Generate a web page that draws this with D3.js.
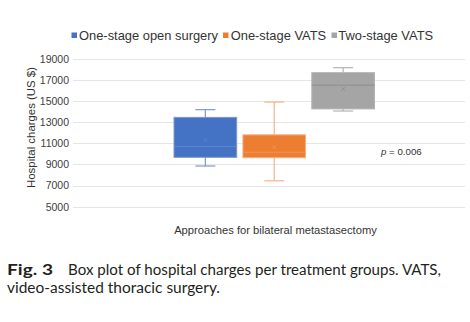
<!DOCTYPE html>
<html>
<head>
<meta charset="utf-8">
<script src="https://cdn.jsdelivr.net/npm/d3@7"></script>
<style>
  html, body { margin: 0; padding: 0; background: #ffffff; }
  svg { display: block; }
</style>
</head>
<body>
<script>
// ---- Data ----
const series = ["One-stage open surgery", "One-stage VATS", "Two-stage VATS"];
const whiskerLow  = [8850, 7450, 14050];
const q1          = [9670, 9630, 14250];
const median      = [10700, 10150, 16500];
const q3          = [13450, 11800, 17680];
const whiskerHigh = [14180, 14900, 18150];
const mean        = [11280, 10620, 16130];
const yTicks      = [5000, 7000, 9000, 11000, 13000, 15000, 17000, 19000];
const colors      = ["#4472C4", "#ED7D31", "#A5A5A5"];
const whiskerColors = ["#8497c9", "#f2b48a", "#b4b4b4"];
const medianColors  = ["#5f86cc", "#f0955a", "#8f8f8f"];
const xTitle = "Approaches for bilateral metastasectomy";
const yTitle = "Hospital charges (US $)";
const pText = " = 0.006";
const captionBold = "Fig. 3";
const captionLine1 = "Box plot of hospital charges per treatment groups. VATS,";
const captionLine2 = "video-assisted thoracic surgery.";

const W = 470, H = 322;
const svg = d3.select("body").append("svg").attr("width", W).attr("height", H);

const plotLeft = 73, plotRight = 465;
const y = d3.scaleLinear().domain([5000, 19000]).range([206.7, 58.7]);
const x = d3.scaleBand().domain(series).range([174, 374.5]).paddingInner(0.09).paddingOuter(0);

const chartFont = "'Liberation Sans', Arial, sans-serif";

// gridlines
svg.append("g").selectAll("line").data(yTicks).join("line")
  .attr("x1", plotLeft).attr("x2", plotRight)
  .attr("y1", d => Math.round(y(d)) + 0.5).attr("y2", d => Math.round(y(d)) + 0.5)
  .attr("stroke", "#e6e6e6").attr("stroke-width", 1);

// y axis (labels only)
const yAxis = d3.axisLeft(y).tickValues(yTicks).tickSize(0).tickPadding(4).tickFormat(d3.format("d"));
const gy = svg.append("g").attr("transform", `translate(${plotLeft},0)`).call(yAxis);
gy.select(".domain").remove();
gy.selectAll("text").attr("font-family", chartFont).attr("font-size", 10.5).attr("fill", "#404040");

// boxes
const idx = d3.range(series.length);
const capW = 20;
const g = svg.append("g");
idx.forEach(i => {
  const s = series[i];
  const x0 = x(s), bw = x.bandwidth(), cx = x0 + bw / 2;
  // whiskers
  g.append("line").attr("x1", cx).attr("x2", cx).attr("y1", y(whiskerHigh[i])).attr("y2", y(q3[i]))
    .attr("stroke", whiskerColors[i]).attr("stroke-width", 1.2);
  g.append("line").attr("x1", cx).attr("x2", cx).attr("y1", y(q1[i])).attr("y2", y(whiskerLow[i]))
    .attr("stroke", whiskerColors[i]).attr("stroke-width", 1.2);
  g.append("line").attr("x1", cx - capW / 2).attr("x2", cx + capW / 2).attr("y1", y(whiskerHigh[i])).attr("y2", y(whiskerHigh[i]))
    .attr("stroke", whiskerColors[i]).attr("stroke-width", 1.2);
  g.append("line").attr("x1", cx - capW / 2).attr("x2", cx + capW / 2).attr("y1", y(whiskerLow[i])).attr("y2", y(whiskerLow[i]))
    .attr("stroke", whiskerColors[i]).attr("stroke-width", 1.2);
  // box
  g.append("rect").attr("x", x0).attr("width", bw)
    .attr("y", y(q3[i])).attr("height", y(q1[i]) - y(q3[i]))
    .attr("fill", colors[i]).attr("stroke", whiskerColors[i]).attr("stroke-width", 1);
  // median
  g.append("line").attr("x1", x0).attr("x2", x0 + bw).attr("y1", y(median[i])).attr("y2", y(median[i]))
    .attr("stroke", medianColors[i]).attr("stroke-width", 1);
  // mean marker (x)
  const my = y(mean[i]), r = 2;
  g.append("path").attr("d", `M${cx - r},${my - r}L${cx + r},${my + r}M${cx - r},${my + r}L${cx + r},${my - r}`)
    .attr("stroke", medianColors[i]).attr("stroke-width", 0.8).attr("fill", "none");
});

// legend
const legendItems = [
  { sq: 71.5, tx: 79 },
  { sq: 223, tx: 230.7 },
  { sq: 331.5, tx: 338.3 }
];
const lg = svg.append("g");
idx.forEach(i => {
  lg.append("rect").attr("x", legendItems[i].sq).attr("y", 32.5).attr("width", 5.5).attr("height", 5.5).attr("fill", colors[i]);
  lg.append("text").attr("x", legendItems[i].tx).attr("y", 39.5)
    .attr("font-family", chartFont).attr("font-size", 12.9).attr("fill", "#333333").text(series[i]);
});

// axis titles
svg.append("text").attr("transform", "translate(34.5,127.5) rotate(-90)").attr("text-anchor", "middle")
  .attr("font-family", chartFont).attr("font-size", 11.4).attr("fill", "#333333").text(yTitle);
svg.append("text").attr("x", 275.5).attr("y", 233.5).attr("text-anchor", "middle")
  .attr("font-family", chartFont).attr("font-size", 11.2).attr("fill", "#333333").text(xTitle);

// p value
const pt = svg.append("text").attr("x", 381).attr("y", 155)
  .attr("font-family", chartFont).attr("font-size", 9.7).attr("fill", "#333333");
pt.append("tspan").attr("font-style", "italic").text("p");
pt.append("tspan").text(pText);

// caption
const capFont = "Lato, 'Open Sans', sans-serif";
svg.append("text").attr("x", 7).attr("y", 275.3).attr("font-family", capFont).attr("font-size", 14.5)
  .attr("font-weight", "bold").attr("fill", "#231f20").attr("textLength", 46).attr("lengthAdjust", "spacingAndGlyphs").text(captionBold);
svg.append("text").attr("x", 68).attr("y", 275.3).attr("font-family", capFont).attr("font-size", 14.5)
  .attr("fill", "#231f20").attr("textLength", 373).attr("lengthAdjust", "spacingAndGlyphs").text(captionLine1);
svg.append("text").attr("x", 7).attr("y", 293).attr("font-family", capFont).attr("font-size", 14.5)
  .attr("fill", "#231f20").attr("textLength", 213).attr("lengthAdjust", "spacingAndGlyphs").text(captionLine2);
</script>
</body>
</html>
